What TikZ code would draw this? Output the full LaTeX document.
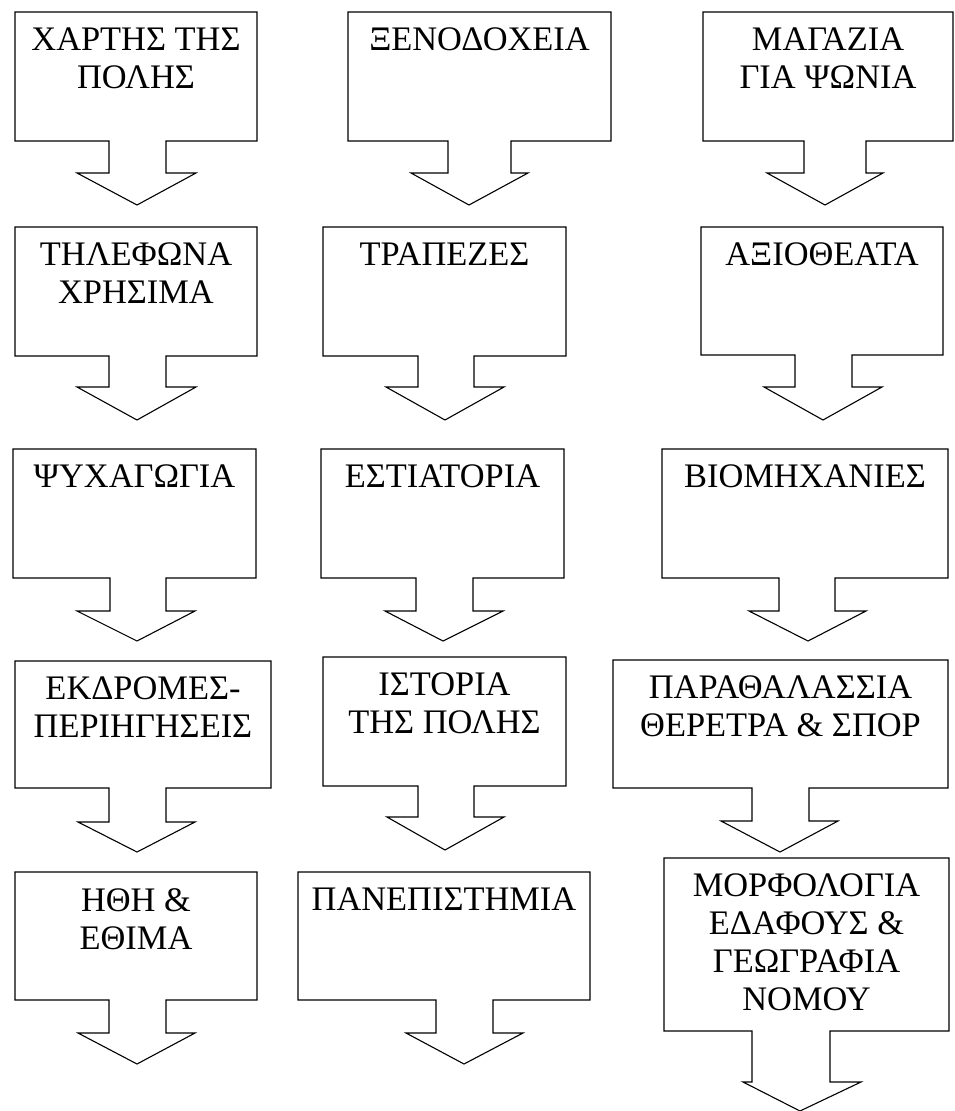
\documentclass[tikz,border=0pt]{standalone}
\usepackage{fontspec}
\setmainfont{Liberation Serif}
\tikzset{
  calloutline/.style={draw=black, line width=1.1pt, line join=miter, fill=white},
  callouttext/.style={font=\fontsize{34.4}{38}\selectfont, align=center, inner sep=0pt, anchor=north},
}
\begin{document}
\begin{tikzpicture}[x=1pt,y=-1pt]
\useasboundingbox[fill=white] (0,0) rectangle (955,1111);
\foreach \n/\xa/\ya/\xb/\yb/\sl/\sr/\sb/\wl/\wr/\tx/\ty/\t in {
 a/15/12/257/141/109/166/173/77/196/137/205/{ΧΑΡΤΗΣ ΤΗΣ\\ΠΟΛΗΣ},
 b/348/12/611/141/448/511/173/411/528/469/205/{ΞΕΝΟΔΟΧΕΙΑ},
 c/703/12/953/141/804/866/173/767/883/825/205/{ΜΑΓΑΖΙΑ\\ΓΙΑ ΨΩΝΙΑ},
 d/15/227/257/356/109/166/387/77/196/137/420/{ΤΗΛΕΦΩΝΑ\\ΧΡΗΣΙΜΑ},
 e/323/227/566/356/418/474/387/386/504/445/420/{ΤΡΑΠΕΖΕΣ},
 f/701/227/943/355/795/852/387/764/882/823/420/{ΑΞΙΟΘΕΑΤΑ},
 g/13/449/256/578/110/166/611/77/195/137/641/{ΨΥΧΑΓΩΓΙΑ},
 h/321/449/564/578/416/473/611/385/503/443/641/{ΕΣΤΙΑΤΟΡΙΑ},
 i/662/449/948/578/779/835/611/749/866/808/641/{ΒΙΟΜΗΧΑΝΙΕΣ},
 j/15/661/271/788/109/166/822/78/195/137/852/{ΕΚΔΡΟΜΕΣ-\\ΠΕΡΙΗΓΗΣΕΙΣ},
 k/323/657/566/786/418/474/817/387/504/445/850/{ΙΣΤΟΡΙΑ\\ΤΗΣ ΠΟΛΗΣ},
 l/613/660/948/788/752/809/821/721/838/780/852/{ΠΑΡΑΘΑΛΑΣΣΙΑ\\ΘΕΡΕΤΡΑ \& ΣΠΟΡ},
 m/15/872/257/1000/109/166/1033/78/195/137/1064/{ΗΘΗ \&\\ΕΘΙΜΑ},
 o/298/872/590/1000/436/493/1033/406/523/464/1064/{ΠΑΝΕΠΙΣΤΗΜΙΑ},
 p/664/858/949/1031/752/830/1082/743/861/800/1111/{ΜΟΡΦΟΛΟΓΙΑ\\ΕΔΑΦΟΥΣ \&\\ΓΕΩΓΡΑΦΙΑ\\ΝΟΜΟΥ}}
{
  \draw[calloutline] (\xa,\ya) -- (\xb,\ya) -- (\xb,\yb) -- (\sr,\yb) -- (\sr,\sb) -- (\wr,\sb) -- (\tx,\ty) -- (\wl,\sb) -- (\sl,\sb) -- (\sl,\yb) -- (\xa,\yb) -- cycle;
  \pgfmathsetmacro\cx{(\xa+\xb)/2}
  \pgfmathsetmacro\cy{\ya+16}
  \node[callouttext] (\n) at (\cx,\cy) {\t};
}
\end{tikzpicture}
\end{document}
